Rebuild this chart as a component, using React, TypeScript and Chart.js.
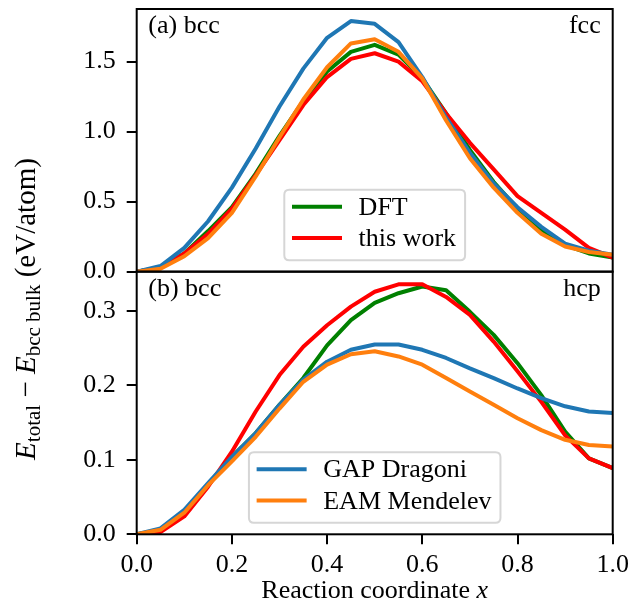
import React, { useEffect, useRef } from 'react';
import { Chart, registerables } from 'chart.js';

Chart.register(...registerables);

const FONT = "'Liberation Serif', 'DejaVu Serif', serif";

// Reaction coordinate samples
const X = [0, 0.05, 0.1, 0.15, 0.2, 0.25, 0.3, 0.35, 0.4, 0.45, 0.5, 0.55, 0.6, 0.65, 0.7, 0.75, 0.8, 0.85, 0.9, 0.95, 1.0];

// (a) bcc -> fcc
const TOP_DFT = [0, 0.03, 0.13, 0.29, 0.46, 0.70, 0.97, 1.22, 1.43, 1.57, 1.62, 1.55, 1.38, 1.13, 0.87, 0.64, 0.45, 0.30, 0.19, 0.13, 0.10];
const TOP_THIS = [0, 0.03, 0.13, 0.27, 0.45, 0.69, 0.94, 1.19, 1.39, 1.52, 1.56, 1.50, 1.36, 1.13, 0.92, 0.73, 0.54, 0.42, 0.30, 0.17, 0.10];
const TOP_GAP = [0, 0.04, 0.17, 0.36, 0.60, 0.88, 1.18, 1.45, 1.67, 1.79, 1.77, 1.64, 1.39, 1.10, 0.85, 0.63, 0.46, 0.32, 0.20, 0.15, 0.12];
const TOP_EAM = [0, 0.02, 0.11, 0.24, 0.42, 0.68, 0.96, 1.23, 1.46, 1.63, 1.66, 1.57, 1.38, 1.08, 0.81, 0.60, 0.42, 0.27, 0.18, 0.14, 0.12];

// (b) bcc -> hcp
const BOT_DFT = [0, 0.005, 0.030, 0.066, 0.104, 0.136, 0.174, 0.210, 0.254, 0.288, 0.311, 0.324, 0.333, 0.328, 0.299, 0.268, 0.230, 0.187, 0.138, 0.102, 0.089];
const BOT_THIS = [0, 0.003, 0.024, 0.064, 0.111, 0.165, 0.214, 0.252, 0.281, 0.306, 0.326, 0.336, 0.336, 0.319, 0.295, 0.259, 0.219, 0.178, 0.133, 0.102, 0.089];
const BOT_GAP = [0, 0.008, 0.033, 0.069, 0.104, 0.136, 0.174, 0.208, 0.232, 0.248, 0.255, 0.255, 0.248, 0.237, 0.223, 0.210, 0.196, 0.183, 0.172, 0.165, 0.163];
const BOT_EAM = [0, 0.006, 0.029, 0.066, 0.098, 0.131, 0.169, 0.205, 0.228, 0.242, 0.246, 0.239, 0.228, 0.210, 0.192, 0.174, 0.156, 0.140, 0.127, 0.120, 0.118];

const X_TICKS = [0, 0.2, 0.4, 0.6, 0.8, 1.0];
const TOP_Y_TICKS = [0, 0.5, 1.0, 1.5];
const BOT_Y_TICKS = [0, 0.1, 0.2, 0.3];
const TOP_Y_MAX = 1.876;
const BOT_Y_MAX = 0.353;

const LABEL_DFT = 'DFT';
const LABEL_THIS = 'this work';
const LABEL_GAP = 'GAP Dragoni';
const LABEL_EAM = 'EAM Mendelev';

const PANEL_A_LEFT = '(a) bcc';
const PANEL_A_RIGHT = 'fcc';
const PANEL_B_LEFT = '(b) bcc';
const PANEL_B_RIGHT = 'hcp';

const GREEN = '#008000';
const RED = '#ff0000';
const BLUE = '#1f77b4';
const ORANGE = '#ff7f0e';

const toPts = (ys: number[]) => X.map((x, i) => ({ x, y: ys[i] }));

function mkDataset(label: string, ys: number[], color: string, axis: string, order: number) {
  return {
    label,
    data: toPts(ys),
    borderColor: color,
    backgroundColor: color,
    borderWidth: 4,
    pointRadius: 0,
    tension: 0,
    fill: false,
    yAxisID: axis,
    order,
    borderJoinStyle: 'round' as const,
  };
}

function roundRectPath(ctx: CanvasRenderingContext2D, x: number, y: number, w: number, h: number, r: number) {
  ctx.beginPath();
  ctx.moveTo(x + r, y);
  ctx.lineTo(x + w - r, y);
  ctx.quadraticCurveTo(x + w, y, x + w, y + r);
  ctx.lineTo(x + w, y + h - r);
  ctx.quadraticCurveTo(x + w, y + h, x + w - r, y + h);
  ctx.lineTo(x + r, y + h);
  ctx.quadraticCurveTo(x, y + h, x, y + h - r);
  ctx.lineTo(x, y + r);
  ctx.quadraticCurveTo(x, y, x + r, y);
  ctx.closePath();
}

function drawLegend(ctx: CanvasRenderingContext2D, area: any, bottom: number, entries: { label: string; color: string }[]) {
  ctx.font = `26px ${FONT}`;
  const textW = Math.max(...entries.map((e) => ctx.measureText(e.label).width));
  const padL = 7.7, handle = 50, gap = 16.6, padR = 9;
  const w = padL + handle + gap + textW + padR;
  const h = 70.5;
  const cx = (area.left + area.right) / 2;
  const x0 = cx - w / 2;
  const y1 = bottom - 11.5;
  const y0 = y1 - h;
  roundRectPath(ctx, x0, y0, w, h, 5);
  ctx.fillStyle = 'rgba(255,255,255,0.8)';
  ctx.fill();
  ctx.strokeStyle = '#d6d6d6';
  ctx.lineWidth = 2;
  ctx.stroke();
  entries.forEach((e, i) => {
    const yc = y0 + 17 + i * 31.3;
    ctx.beginPath();
    ctx.strokeStyle = e.color;
    ctx.lineWidth = 4;
    ctx.lineCap = 'butt';
    ctx.moveTo(x0 + padL, yc);
    ctx.lineTo(x0 + padL + handle, yc);
    ctx.stroke();
    ctx.fillStyle = '#000';
    ctx.textAlign = 'left';
    ctx.textBaseline = 'alphabetic';
    ctx.fillText(e.label, x0 + padL + handle + gap, yc + 8);
  });
}

const decorPlugin = {
  id: 'decor',
  afterDatasetsDraw(chart: any) {
    const ctx: CanvasRenderingContext2D = chart.ctx;
    const a = chart.chartArea;
    const yt = chart.scales.yTop;
    const yb = chart.scales.yBottom;
    ctx.save();
    // frames
    ctx.strokeStyle = '#000';
    ctx.lineWidth = 2;
    for (const s of [yt, yb]) {
      ctx.strokeRect(a.left, s.top, a.right - a.left, s.bottom - s.top);
    }
    // panel labels
    ctx.fillStyle = '#000';
    ctx.font = `26px ${FONT}`;
    ctx.textBaseline = 'alphabetic';
    ctx.textAlign = 'left';
    ctx.fillText(PANEL_A_LEFT, a.left + 11.6, yt.top + 24);
    ctx.fillText(PANEL_B_LEFT, a.left + 11.6, yb.top + 24);
    ctx.textAlign = 'right';
    ctx.fillText(PANEL_A_RIGHT, a.right - 12, yt.top + 24);
    ctx.fillText(PANEL_B_RIGHT, a.right - 12, yb.top + 24);

    // legends
    drawLegend(ctx, a, yt.bottom, [
      { label: LABEL_DFT, color: GREEN },
      { label: LABEL_THIS, color: RED },
    ]);
    drawLegend(ctx, a, yb.bottom, [
      { label: LABEL_GAP, color: BLUE },
      { label: LABEL_EAM, color: ORANGE },
    ]);

    // x axis title
    const xMain = 'Reaction coordinate ';
    const xVar = 'x';
    ctx.font = `26px ${FONT}`;
    const w1 = ctx.measureText(xMain).width;
    ctx.font = `italic 26px ${FONT}`;
    const w2 = ctx.measureText(xVar).width;
    const cx = (a.left + a.right) / 2;
    const sx = cx - (w1 + w2) / 2;
    ctx.textAlign = 'left';
    ctx.font = `26px ${FONT}`;
    ctx.fillText(xMain, sx, 598);
    ctx.font = `italic 26px ${FONT}`;
    ctx.fillText(xVar, sx + w1, 598);

    // y axis title (rotated, with subscripts)
    const MAIN = 29, SUB = 21;
    const parts = [
      { t: 'E', font: `italic ${MAIN}px ${FONT}`, dy: 0 },
      { t: 'total', font: `${SUB}px ${FONT}`, dy: 5 },
      { t: ' \u2212 ', font: `${MAIN}px ${FONT}`, dy: 0 },
      { t: 'E', font: `italic ${MAIN}px ${FONT}`, dy: 0 },
      { t: 'bcc bulk', font: `${SUB}px ${FONT}`, dy: 5 },
      { t: ' (eV/atom)', font: `${MAIN}px ${FONT}`, dy: 0 },
    ];
    let total = 0;
    const widths = parts.map((p) => {
      ctx.font = p.font;
      const w = ctx.measureText(p.t).width;
      total += w;
      return w;
    });
    ctx.translate(35, 309);
    ctx.rotate(-Math.PI / 2);
    let px = -total / 2;
    parts.forEach((p, i) => {
      ctx.font = p.font;
      ctx.fillText(p.t, px, p.dy);
      px += widths[i];
    });
    ctx.restore();
  },
};

export default function App() {
  const ref = useRef<HTMLCanvasElement | null>(null);

  useEffect(() => {
    if (!ref.current) return;
    Chart.defaults.font.family = FONT;
    Chart.defaults.color = '#000';

    const tickFmt = (v: any) => Number(v).toFixed(1);
    const gridOpts = { drawOnChartArea: false, color: '#000', lineWidth: 2, tickLength: 10, drawTicks: true };
    const fitY = (s: any) => {
      s.width = 136.7;
      s.paddingTop = 0;
      s.paddingBottom = 0;
    };

    const chart = new Chart(ref.current, {
      type: 'line',
      data: {
        datasets: [
          mkDataset(LABEL_DFT, TOP_DFT, GREEN, 'yTop', 4),
          mkDataset(LABEL_THIS, TOP_THIS, RED, 'yTop', 3),
          mkDataset(LABEL_GAP, TOP_GAP, BLUE, 'yTop', 2),
          mkDataset(LABEL_EAM, TOP_EAM, ORANGE, 'yTop', 1),
          mkDataset(LABEL_DFT, BOT_DFT, GREEN, 'yBottom', 4),
          mkDataset(LABEL_THIS, BOT_THIS, RED, 'yBottom', 3),
          mkDataset(LABEL_GAP, BOT_GAP, BLUE, 'yBottom', 2),
          mkDataset(LABEL_EAM, BOT_EAM, ORANGE, 'yBottom', 1),
        ] as any,
      },
      options: {
        responsive: false,
        animation: false,
        devicePixelRatio: 1,
        layout: { padding: { left: 0, right: 26.3, top: 9, bottom: 0 } },
        plugins: { legend: { display: false }, tooltip: { enabled: false } },
        scales: {
          x: {
            type: 'linear',
            position: 'bottom',
            min: 0,
            max: 1,
            afterBuildTicks: (s: any) => { s.ticks = X_TICKS.map((v) => ({ value: v })); },
            afterFit: (s: any) => { s.height = 70.7; s.paddingLeft = 0; s.paddingRight = 0; },
            ticks: { callback: tickFmt, font: { size: 26 }, padding: 5, maxRotation: 0, autoSkip: false },
            grid: gridOpts,
            border: { display: false },
          },
          // stacked panels: defined bottom first so that the top panel is placed on top
          yBottom: {
            type: 'linear',
            position: 'left',
            stack: 'panels',
            stackWeight: 1,
            min: 0,
            max: BOT_Y_MAX,
            afterBuildTicks: (s: any) => { s.ticks = BOT_Y_TICKS.map((v) => ({ value: v })); },
            afterFit: fitY,
            ticks: { callback: tickFmt, font: { size: 26 }, padding: 11, autoSkip: false },
            grid: gridOpts,
            border: { display: false },
          },
          yTop: {
            type: 'linear',
            position: 'left',
            stack: 'panels',
            stackWeight: 1,
            min: 0,
            max: TOP_Y_MAX,
            afterBuildTicks: (s: any) => { s.ticks = TOP_Y_TICKS.map((v) => ({ value: v })); },
            afterFit: fitY,
            ticks: { callback: tickFmt, font: { size: 26 }, padding: 11, autoSkip: false },
            grid: gridOpts,
            border: { display: false },
          },
        } as any,
      },
      plugins: [decorPlugin],
    });
    return () => chart.destroy();
  }, []);

  return (
    <div style={{ position: 'absolute', left: 0, top: 0, width: 639, height: 605, background: '#fff' }}>
      <canvas ref={ref} width={639} height={605} style={{ display: 'block' }} />
    </div>
  );
}
